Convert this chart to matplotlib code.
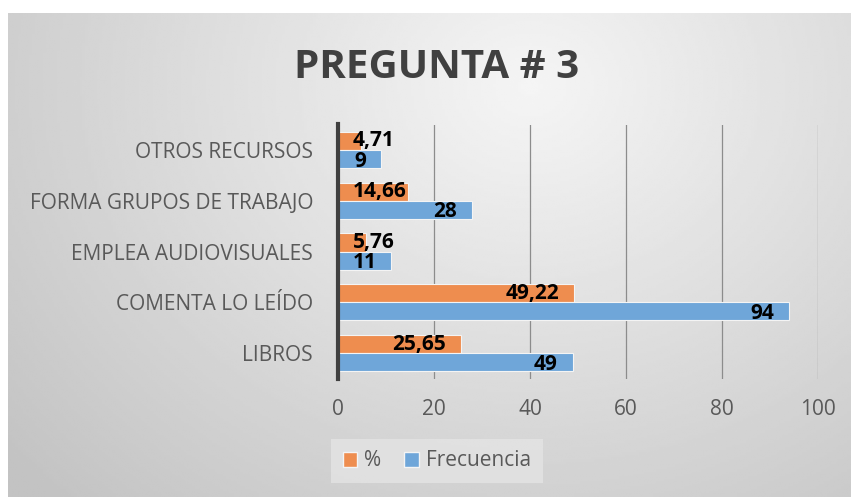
import numpy as np
import matplotlib
matplotlib.use('Agg')
from matplotlib import pyplot as plt
from matplotlib.patches import Patch

# data
categorias = ['LIBROS', 'COMENTA LO LEÍDO', 'EMPLEA AUDIOVISUALES',
              'FORMA GRUPOS DE TRABAJO', 'OTROS RECURSOS']
porcentaje = [25.65, 49.22, 5.76, 14.66, 4.71]
frecuencia = [49, 94, 11, 28, 9]
ticks_x = [0, 20, 40, 60, 80, 100]

ORANGE = '#ee8d4f'
BLUE = '#6fa6d9'
GRAY_TXT = '#595959'

plt.rcParams['font.family'] = ['Open Sans', 'DejaVu Sans']

W, H = 851, 497
fig = plt.figure(figsize=(W / 100, H / 100), dpi=100)
fig.patch.set_facecolor('white')

# gradient background of the chart area
bg = fig.add_axes([8 / W, 0, 1 - 8 / W, 1 - 13 / H])
yy, xx = np.mgrid[0:1:200j, 0:1:300j]
dist = np.sqrt(((xx - 0.62) / 0.75) ** 2 + ((yy - 0.15) / 1.1) ** 2)
shade = 0.96 - 0.18 * np.clip(dist, 0, 1.1)
bg.imshow(shade, cmap='gray', vmin=0, vmax=1, aspect='auto', interpolation='bilinear')
bg.set_axis_off()

ax = fig.add_axes([338 / W, 1 - 378.5 / H, (818 - 338) / W, (378.5 - 124.5) / H])
ax.patch.set_alpha(0)

y = np.arange(len(categorias))
h = 0.355
ax.barh(y + h / 2, porcentaje, height=h, color=ORANGE,
        edgecolor='#f4f4f4', linewidth=0.8, zorder=3, label='%')
ax.barh(y - h / 2, frecuencia, height=h, color=BLUE,
        edgecolor='#f4f4f4', linewidth=0.8, zorder=3, label='Frecuencia')

ax.set_xlim(0, 100)
ax.set_ylim(-0.5, len(categorias) - 0.5)
ax.set_xticks(ticks_x)
ax.set_yticks(y)
ax.set_yticklabels(categorias)
ax.tick_params(axis='y', length=0, pad=18, labelsize=15, labelcolor=GRAY_TXT)
ax.tick_params(axis='x', length=0, pad=15, labelsize=15, labelcolor=GRAY_TXT)
ax.grid(axis='x', color='#8c8c8c', linewidth=0.9, zorder=0)
for s in ['top', 'right', 'bottom']:
    ax.spines[s].set_visible(False)
ax.spines['left'].set_color('#404040')
ax.spines['left'].set_linewidth(3)
ax.spines['left'].set_zorder(4)

# data labels (inside end, pushed to the base when they do not fit)
labels = []
for vals, yoff, dy in [(porcentaje, h / 2, 0), (frecuencia, -h / 2, -1.5)]:
    for v, yi in zip(vals, y + yoff):
        txt = ('%g' % v).replace('.', ',')
        t = ax.annotate(txt, (v, yi), xytext=(-11, dy), textcoords='offset points',
                        ha='right', va='center', fontsize=15, fontweight='bold',
                        color='black', zorder=5)
        labels.append((t, yi, dy))

fig.canvas.draw()
renderer = fig.canvas.get_renderer()
x0_px = ax.transData.transform((0, 0))[0]
for t, yi, dy in labels:
    bb = t.get_window_extent(renderer)
    if bb.x0 < x0_px + 15:
        t.xy = (0, yi)
        t.xyann = (10.5, dy)
        t.set_ha('left')

fig.text(437 / W, 1 - 67 / H, 'PREGUNTA # 3', ha='center', va='center',
         fontsize=29, fontweight='bold', color='#404040')

handles = [Patch(facecolor=ORANGE, edgecolor='#f4f4f4'),
           Patch(facecolor=BLUE, edgecolor='#f4f4f4')]
leg = fig.legend(handles, ['%', 'Frecuencia'], loc='center',
                 bbox_to_anchor=(437 / W, 1 - 461 / H), ncol=2, frameon=True,
                 fontsize=15, labelcolor=GRAY_TXT, handlelength=0.7,
                 handleheight=0.7, handletextpad=0.35, columnspacing=1.1,
                 borderpad=0.55, borderaxespad=0, fancybox=False)
leg.get_frame().set_facecolor('#e4e4e4')
leg.get_frame().set_edgecolor('none')

fig.savefig('out.png', dpi=100)
